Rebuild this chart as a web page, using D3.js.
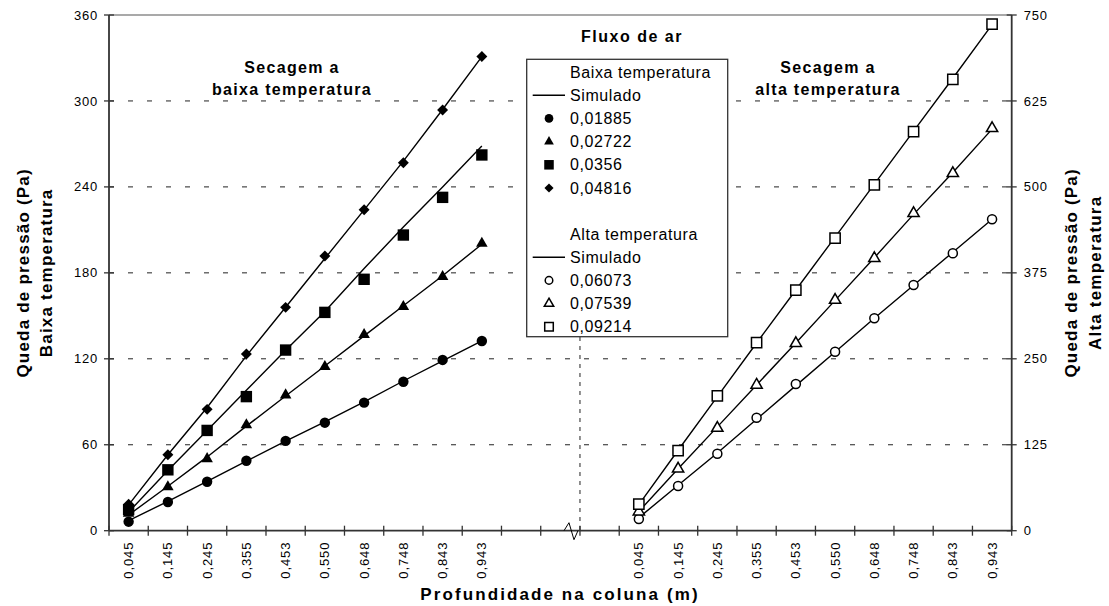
<!DOCTYPE html>
<html>
<head>
<meta charset="utf-8">
<script src="https://cdn.jsdelivr.net/npm/d3@7"></script>
<style>
  body { margin: 0; background: #fff; }
  text { font-family: "Liberation Sans", Arial, sans-serif; fill: #000; }
</style>
</head>
<body>
<div id="chart"></div>
<script>
// categories (depth in the column, m)
var depthLabels = ["0,045", "0,145", "0,245", "0,355", "0,453", "0,550", "0,648", "0,748", "0,843", "0,943"];

// low temperature drying (left axis, Pa)
var lowFlows = ["0,01885", "0,02722", "0,0356", "0,04816"];
var lowObs = [
  [6.3, 20, 34.2, 48.8, 62.7, 75.4, 89.4, 104, 119.2, 132.4],
  [12, 30.5, 50.2, 73.8, 94.7, 114.5, 136.9, 156.4, 177.3, 200.6],
  [14.7, 42.5, 70, 93.6, 126.1, 152.4, 175.5, 206.4, 232.7, 262.3],
  [18.5, 53, 84.7, 123.4, 155.9, 191.8, 224, 256.9, 293.7, 331]
];
var lowSim = [
  [7, 20.5, 34.5, 48.5, 62.5, 76, 90, 104.5, 118.5, 132.5],
  [11, 31, 51.5, 73, 94, 115, 136, 157, 178, 200],
  [13, 42, 70, 98, 126, 153, 183, 212, 240, 268.5],
  [18, 53, 86, 122, 156, 190, 224, 258, 294, 331]
];

// high temperature drying (right axis, Pa)
var highFlows = ["0,06073", "0,07539", "0,09214"];
var highObs = [
  [17, 65, 112, 164.3, 213.4, 260.3, 308.9, 357.3, 403.4, 452.9],
  [27.6, 90, 149.3, 211.9, 272.5, 335.5, 396.1, 461.6, 519.8, 585.2],
  [38.6, 116.3, 196, 273.4, 350, 425.6, 502.8, 580.3, 656.5, 736.9]
];
var highSim = [
  [19, 66, 113, 162, 211, 260, 309, 357, 405, 453],
  [28, 90, 151, 212, 273, 335, 397, 460, 521, 584],
  [38, 117, 195, 273, 350, 427, 504, 581, 658, 736]
];

var lowTicks = [0, 60, 120, 180, 240, 300, 360];
var highTicks = [0, 125, 250, 375, 500, 625, 750];

var svgWidth = 1109, svgHeight = 606;
var plotLeft = 109, plotRight = 1011.7, plotTop = 15, plotBottom = 530.7;

var svg = d3.select("#chart").append("svg")
  .attr("width", svgWidth)
  .attr("height", svgHeight);

// 10 left categories, 3 empty ones around the break, 10 right categories
var cats = depthLabels.map(d => "B" + d)
  .concat(["g1", "g2", "g3"])
  .concat(depthLabels.map(d => "A" + d));

var x = d3.scaleBand().domain(cats).range([plotLeft, plotRight]);
var xEdge = d3.scaleLinear().domain([0, cats.length]).range([plotLeft, plotRight]);
var yL = d3.scaleLinear().domain([0, 360]).range([plotBottom, plotTop]);
var yR = d3.scaleLinear().domain([0, 750]).range([plotBottom, plotTop]);

// dashed gridlines
svg.append("g").selectAll("line")
  .data(lowTicks.slice(1, -1))
  .enter().append("line")
  .attr("x1", plotLeft).attr("x2", plotRight)
  .attr("y1", d => yL(d)).attr("y2", d => yL(d))
  .attr("stroke", "#222").attr("stroke-width", 1)
  .attr("stroke-dasharray", "5,14");

// top border
svg.append("line")
  .attr("x1", plotLeft).attr("x2", plotRight)
  .attr("y1", plotTop).attr("y2", plotTop)
  .attr("stroke", "#8c8c8c").attr("stroke-width", 1.5);

// vertical dashed separator
svg.append("line")
  .attr("x1", xEdge(12)).attr("x2", xEdge(12))
  .attr("y1", 337).attr("y2", plotBottom)
  .attr("stroke", "#222").attr("stroke-width", 1)
  .attr("stroke-dasharray", "4,5");

// left axis
var leftAxis = svg.append("g").attr("transform", `translate(${plotLeft},0)`);
leftAxis.append("line").attr("y1", plotTop).attr("y2", plotBottom).attr("stroke", "#333").attr("stroke-width", 1.8);
leftAxis.selectAll(".tk").data(lowTicks).enter().append("line")
  .attr("x1", -5).attr("x2", 5)
  .attr("y1", d => yL(d)).attr("y2", d => yL(d))
  .attr("stroke", "#333").attr("stroke-width", 1.3);
leftAxis.selectAll("text").data(lowTicks).enter().append("text")
  .attr("x", -11).attr("y", d => yL(d)).attr("dy", "0.35em")
  .attr("text-anchor", "end").attr("font-size", 13).attr("letter-spacing", 0.8)
  .text(d => d);

// right axis
var rightAxis = svg.append("g").attr("transform", `translate(${plotRight},0)`);
rightAxis.append("line").attr("y1", plotTop).attr("y2", plotBottom).attr("stroke", "#333").attr("stroke-width", 1.8);
rightAxis.selectAll(".tk").data(highTicks).enter().append("line")
  .attr("x1", -5).attr("x2", 5)
  .attr("y1", d => yR(d)).attr("y2", d => yR(d))
  .attr("stroke", "#333").attr("stroke-width", 1.3);
rightAxis.selectAll("text").data(highTicks).enter().append("text")
  .attr("x", 12).attr("y", d => yR(d)).attr("dy", "0.35em")
  .attr("text-anchor", "start").attr("font-size", 13).attr("letter-spacing", 0.8)
  .text(d => d);

// bottom axis
var bottomAxis = svg.append("g");
bottomAxis.append("line").attr("x1", plotLeft).attr("x2", plotRight)
  .attr("y1", plotBottom).attr("y2", plotBottom).attr("stroke", "#333").attr("stroke-width", 1.8);
bottomAxis.selectAll(".tk").data(d3.range(cats.length + 1)).enter().append("line")
  .attr("x1", d => xEdge(d)).attr("x2", d => xEdge(d))
  .attr("y1", plotBottom - 5).attr("y2", plotBottom + 5)
  .attr("stroke", "#333").attr("stroke-width", 1.3);
bottomAxis.selectAll("text").data(cats.filter(c => c[0] != "g")).enter().append("text")
  .attr("transform", d => `translate(${x(d) + x.bandwidth() / 2},${plotBottom + 11}) rotate(-90)`)
  .attr("dy", "0.35em")
  .attr("text-anchor", "end").attr("font-size", 13).attr("letter-spacing", 0.9)
  .text(d => d.slice(1));

// axis break mark
var bx = xEdge(12);
svg.append("path")
  .attr("d", `M${bx - 16},${plotBottom} L${bx - 11},${plotBottom - 8} L${bx - 6},${plotBottom + 9} L${bx - 2},${plotBottom}`)
  .attr("fill", "none").attr("stroke", "#000").attr("stroke-width", 1);

// simulated lines
var lineLow = d3.line().x((d, i) => x("B" + depthLabels[i]) + x.bandwidth() / 2).y(d => yL(d));
var lineHigh = d3.line().x((d, i) => x("A" + depthLabels[i]) + x.bandwidth() / 2).y(d => yR(d));

svg.append("g").selectAll("path").data(lowSim).enter().append("path")
  .attr("d", lineLow).attr("fill", "none").attr("stroke", "#000").attr("stroke-width", 1.4);
svg.append("g").selectAll("path").data(highSim).enter().append("path")
  .attr("d", lineHigh).attr("fill", "none").attr("stroke", "#000").attr("stroke-width", 1.4);

// markers
var lowSymbols = [
  { type: d3.symbolCircle, size: 85, rot: 0 },
  { type: d3.symbolTriangle, size: 58, rot: 0 },
  { type: d3.symbolSquare, size: 130, rot: 0 },
  { type: d3.symbolSquare, size: 60, rot: 45 }
];
var highSymbols = [
  { type: d3.symbolCircle, size: 64, rot: 0 },
  { type: d3.symbolTriangle, size: 55, rot: 0 },
  { type: d3.symbolSquare, size: 105, rot: 0 }
];

lowObs.forEach(function(series, s) {
  var sym = lowSymbols[s];
  svg.append("g").selectAll("path").data(series).enter().append("path")
    .attr("d", d3.symbol().type(sym.type).size(sym.size))
    .attr("transform", (d, i) => `translate(${x("B" + depthLabels[i]) + x.bandwidth() / 2},${yL(d)}) rotate(${sym.rot})`)
    .attr("fill", "#000");
});
highObs.forEach(function(series, s) {
  var sym = highSymbols[s];
  svg.append("g").selectAll("path").data(series).enter().append("path")
    .attr("d", d3.symbol().type(sym.type).size(sym.size))
    .attr("transform", (d, i) => `translate(${x("A" + depthLabels[i]) + x.bandwidth() / 2},${yR(d)})`)
    .attr("fill", "#fff").attr("stroke", "#000").attr("stroke-width", 1.5);
});

// annotations
function label(lines, cx, y0, size, spacing) {
  lines.forEach(function(t, i) {
    svg.append("text")
      .attr("x", cx).attr("y", y0 + i * 22)
      .attr("text-anchor", "middle")
      .attr("font-size", size).attr("font-weight", "bold")
      .attr("letter-spacing", spacing)
      .text(t);
  });
}
label(["Secagem a", "baixa temperatura"], 292, 73, 16, 1.3);
label(["Secagem a", "alta temperatura"], 828, 73, 16, 1.3);
label(["Fluxo de ar"], 632, 42, 16, 1.5);

// axis titles
svg.append("text")
  .attr("x", 560).attr("y", 600)
  .attr("text-anchor", "middle").attr("font-size", 17).attr("font-weight", "bold")
  .attr("letter-spacing", 2.1)
  .text("Profundidade na coluna (m)");

function yTitle(lines, xs) {
  lines.forEach(function(t, i) {
    svg.append("text")
      .attr("transform", `translate(${xs[i]},${(plotTop + plotBottom) / 2}) rotate(-90)`)
      .attr("text-anchor", "middle").attr("font-size", 17).attr("font-weight", "bold")
      .attr("letter-spacing", 1.2)
      .text(t);
  });
}
yTitle(["Queda de pressão (Pa)", "Baixa temperatura"], [29, 52]);
yTitle(["Queda de pressão (Pa)", "Alta temperatura"], [1077, 1101]);

// legend
var legend = svg.append("g");
legend.append("rect")
  .attr("x", 526.7).attr("y", 59.3).attr("width", 201).attr("height", 277.4)
  .attr("fill", "#fff").attr("stroke", "#333").attr("stroke-width", 1.3);

var rowH = 23.2;
function legendBlock(title, flows, symbols, filled, y0) {
  legend.append("text").attr("x", 570).attr("y", y0).attr("dy", "0.35em")
    .attr("font-size", 16).attr("letter-spacing", 0.6).text(title);
  legend.append("line")
    .attr("x1", 532.7).attr("x2", 565)
    .attr("y1", y0 + rowH).attr("y2", y0 + rowH)
    .attr("stroke", "#000").attr("stroke-width", 1.4);
  legend.append("text").attr("x", 570).attr("y", y0 + rowH).attr("dy", "0.35em")
    .attr("font-size", 16).attr("letter-spacing", 0.6).text("Simulado");
  flows.forEach(function(f, i) {
    var yy = y0 + rowH * (i + 2);
    var sym = symbols[i];
    legend.append("path")
      .attr("d", d3.symbol().type(sym.type).size(sym.size * 0.7))
      .attr("transform", `translate(549,${yy}) rotate(${sym.rot || 0})`)
      .attr("fill", filled ? "#000" : "#fff")
      .attr("stroke", filled ? "none" : "#000").attr("stroke-width", 1.5);
    legend.append("text").attr("x", 570).attr("y", yy).attr("dy", "0.35em")
      .attr("font-size", 16).attr("letter-spacing", 0.6).text(f);
  });
}
legendBlock("Baixa temperatura", lowFlows, lowSymbols, true, 72);
legendBlock("Alta temperatura", highFlows, highSymbols, false, 234);
</script>
</body>
</html>
